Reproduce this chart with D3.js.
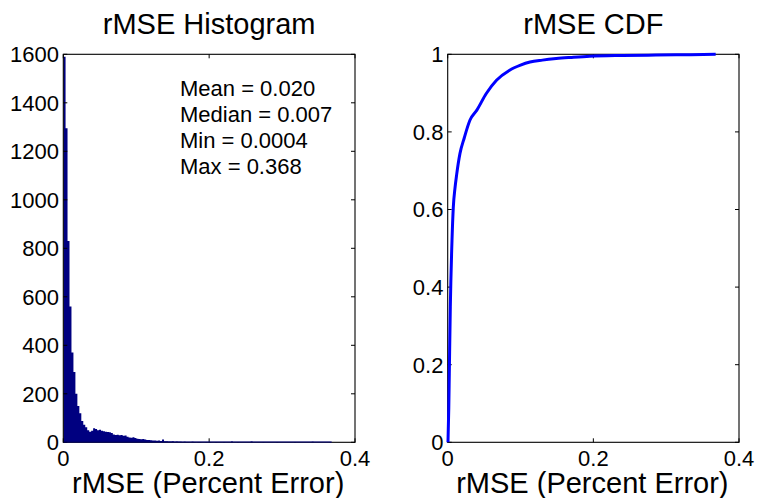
<!DOCTYPE html>
<html>
<head>
<meta charset="utf-8">
<script src="https://cdn.jsdelivr.net/npm/d3@7/dist/d3.min.js"></script>
<style>
  html, body { margin: 0; padding: 0; background: #fff; }
  svg { display: block; }
  text { font-family: "Liberation Sans", Arial, Helvetica, sans-serif; fill: #000; }
</style>
</head>
<body>
<svg id="chart" width="757" height="498"></svg>
<script>
// ---- data ----
const histTitle = "rMSE Histogram";
const cdfTitle = "rMSE CDF";
const xLabel = "rMSE (Percent Error)";
const statsLines = ["Mean = 0.020", "Median = 0.007", "Min = 0.0004", "Max = 0.368"];

const binStart = 0.0004;
const binWidth = 0.0027;
const histCounts = [
  1590,1295,830,560,370,290,200,150,120,88,
  72,62,50,44,48,58,55,50,52,48,
  46,44,42,41,38,32,30,31,29,30,
  27,28,23,20,19,21,18,15,14,13,
  14,12,10,9,8,7,7,6,7,5,
  12,4,4,3,3,4,2,3,2,2,
  1,2,1,1,0,2,1,0,1,1,
  0,0,1,0,1,0,0,1,0,0,
  0,1,0,0,0,3,0,0,1,0,
  0,0,0,0,0,3,0,0,0,0,
  0,1,0,0,0,0,0,0,1,0,
  0,0,0,0,0,0,0,1,0,0,
  0,0,0,0,0,0,2,0,0,0,
  0,0,0,0,0,1
];
const dataMax = 0.368;

const cdfX = [0.0004,0.0015,0.0022,0.0036,0.0059,0.0077,0.0100,0.0123,0.0168,0.0228,0.0305,0.040,0.053,0.067,0.085,0.100,0.113,0.130,0.149,0.170,0.195,0.240,0.286,0.330,0.368];
const cdfP = [0,0.09,0.177,0.349,0.52,0.606,0.655,0.69,0.744,0.785,0.830,0.856,0.899,0.933,0.959,0.972,0.980,0.985,0.989,0.992,0.995,0.997,0.998,0.999,1.0];

const xTicks = [0, 0.2, 0.4];
const histYTicks = [0,200,400,600,800,1000,1200,1400,1600];
const cdfYTicks = [0,0.2,0.4,0.6,0.8,1];

// ---- layout ----
const svg = d3.select("#chart");
const plotTop = 54.3, plotBottom = 442.3;
const panels = [
  {x0: 63.3, x1: 355},
  {x0: 447.7, x1: 739}
];
const tickLen = 4;
const tickFont = 22;
const navy = "#000080";

function drawFrame(g, xs, ys, xt, yt, yFmt) {
  const [xa, xb] = xs.range();
  const [ya, yb] = ys.range(); // ya bottom, yb top
  xt.forEach(t => {
    const x = xs(t);
    g.append("line").attr("x1", x).attr("x2", x).attr("y1", ya).attr("y2", ya - tickLen).attr("stroke", "#000").attr("stroke-width", 1);
    g.append("line").attr("x1", x).attr("x2", x).attr("y1", yb).attr("y2", yb + tickLen).attr("stroke", "#000").attr("stroke-width", 1);
    g.append("text").attr("x", x).attr("y", ya + 24).attr("text-anchor", "middle")
      .style("font-size", tickFont + "px").text(String(t));
  });
  yt.forEach(t => {
    const y = ys(t);
    g.append("line").attr("x1", xa).attr("x2", xa + tickLen).attr("y1", y).attr("y2", y).attr("stroke", "#000").attr("stroke-width", 1);
    g.append("line").attr("x1", xb).attr("x2", xb - tickLen).attr("y1", y).attr("y2", y).attr("stroke", "#000").attr("stroke-width", 1);
    g.append("text").attr("x", xa - 4.3).attr("y", y + 7.8).attr("text-anchor", "end")
      .style("font-size", tickFont + "px").text(yFmt(t));
  });
  g.append("rect").attr("x", xa).attr("y", yb).attr("width", xb - xa).attr("height", ya - yb)
    .attr("fill", "none").attr("stroke", "#000").attr("stroke-width", 1.1);
}

// ---- histogram panel ----
{
  const p = panels[0];
  const xs = d3.scaleLinear().domain([0, 0.4]).range([p.x0, p.x1]);
  const ys = d3.scaleLinear().domain([0, 1600]).range([plotBottom, plotTop]);
  const g = svg.append("g");
  const pts = histCounts.map((c, i) => [binStart + i * binWidth, c]);
  pts.push([binStart + histCounts.length * binWidth, histCounts[histCounts.length - 1]]);
  const area = d3.area().x(d => xs(d[0])).y0(ys(0)).y1(d => ys(d[1])).curve(d3.curveStepAfter);
  g.append("path").datum(pts).attr("d", area).attr("fill", navy);
  drawFrame(g, xs, ys, xTicks, histYTicks, d => String(d));
  g.append("line").attr("x1", xs(binStart)).attr("x2", xs(dataMax)).attr("y1", ys(0) - 0.3).attr("y2", ys(0) - 0.3)
    .attr("stroke", navy).attr("stroke-width", 1.2);
  statsLines.forEach((s, i) => {
    g.append("text").attr("x", 180).attr("y", 95.5 + i * 26).style("font-size", "22px").text(s);
  });
  svg.append("text").attr("x", (p.x0 + p.x1) / 2).attr("y", 34.3).attr("text-anchor", "middle")
    .style("font-size", "29px").text(histTitle);
  svg.append("text").attr("x", (p.x0 + p.x1) / 2 - 1).attr("y", 493).attr("text-anchor", "middle")
    .style("font-size", "29px").text(xLabel);
}

// ---- CDF panel ----
{
  const p = panels[1];
  const xs = d3.scaleLinear().domain([0, 0.4]).range([p.x0, p.x1]);
  const ys = d3.scaleLinear().domain([0, 1]).range([plotBottom, plotTop]);
  const g = svg.append("g");
  drawFrame(g, xs, ys, xTicks, cdfYTicks, d => String(d));
  const line = d3.line().x(d => xs(d[0])).y(d => ys(d[1])).curve(d3.curveMonotoneX);
  g.append("path").datum(cdfX.map((x, i) => [x, cdfP[i]]))
    .attr("d", line).attr("fill", "none").attr("stroke", "#0000ff")
    .attr("stroke-width", 3).attr("stroke-linejoin", "round");
  svg.append("text").attr("x", (p.x0 + p.x1) / 2).attr("y", 34.3).attr("text-anchor", "middle")
    .style("font-size", "29px").text(cdfTitle);
  svg.append("text").attr("x", (p.x0 + p.x1) / 2 - 1).attr("y", 493).attr("text-anchor", "middle")
    .style("font-size", "29px").text(xLabel);
}
</script>
</body>
</html>
